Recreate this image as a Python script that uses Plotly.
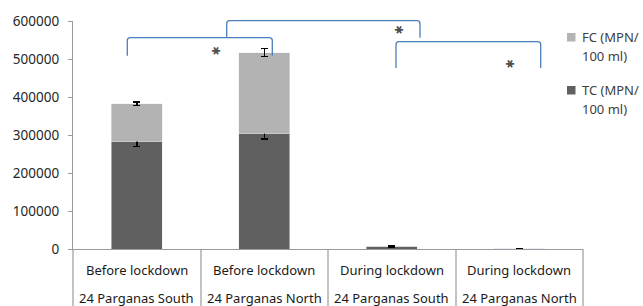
import plotly.graph_objects as go

periods = ["Before lockdown", "Before lockdown", "During lockdown", "During lockdown"]
districts = ["24 Parganas South", "24 Parganas North", "24 Parganas South", "24 Parganas North"]
tc_values = [283000, 305000, 7000, 500]
fc_values = [99000, 212000, 600, 200]
tc_err = [13000, 16000, 1200, 0]
fc_err = [5000, 10000, 0, 0]
y_ticks = [0, 100000, 200000, 300000, 400000, 500000, 600000]
legend_lines = {"FC": ["FC (MPN/", "100 ml)"], "TC": ["TC (MPN/", "100 ml)"]}

W, H = 643, 306
L, R, T, B = 73, 60, 21, 57
PW, PH = W - L - R, H - T - B

def px(x):
    return (x - L) / PW

def py(y):
    return (H - B - y) / PH

TC_COLOR, FC_COLOR = "#606060", "#b3b3b3"

xs = list(range(len(periods)))
fig = go.Figure()
fig.add_trace(go.Bar(
    x=xs, y=tc_values, name="TC (MPN/100 ml)", marker_color=TC_COLOR,
    width=0.4, showlegend=False,
    error_y=dict(type="data", array=tc_err, color="black", thickness=1.5, width=3.5),
))
fig.add_trace(go.Bar(
    x=xs, y=fc_values, name="FC (MPN/100 ml)", marker_color=FC_COLOR,
    width=0.4, showlegend=False,
    error_y=dict(type="data", array=fc_err, color="black", thickness=1.5, width=3.5),
))

shapes = []
blue = "#4a7ebb"
def bracket(x0, x1, ytop, ybot, r=3):
    path = (f"M {px(x0)},{py(ybot)} L {px(x0)},{py(ytop + r)} "
            f"Q {px(x0)},{py(ytop)} {px(x0 + r)},{py(ytop)} "
            f"L {px(x1 - r)},{py(ytop)} Q {px(x1)},{py(ytop)} {px(x1)},{py(ytop + r)} "
            f"L {px(x1)},{py(ybot)}")
    return dict(type="path", path=path, xref="paper", yref="paper",
                line=dict(color=blue, width=1.3))
shapes.append(bracket(127.3, 272.3, 37.7, 55.7))
shapes.append(bracket(226.7, 420, 20.7, 37.7))
shapes.append(bracket(396, 540.7, 41.7, 68))

# category table lines
for b in [73, 201, 328, 456, 583]:
    shapes.append(dict(type="line", xref="paper", yref="paper",
                       x0=px(b), x1=px(b), y0=0, y1=py(310),
                       line=dict(color="#9a9a9a", width=1.2)))

annotations = []
# manual legend
for key, color, ytop in [("FC", FC_COLOR, 33), ("TC", TC_COLOR, 86)]:
    shapes.append(dict(type="rect", xref="paper", yref="paper",
                       x0=px(567), x1=px(575.5), y0=py(ytop), y1=py(ytop + 8.5),
                       fillcolor=color, line=dict(width=0)))
    for k, line in enumerate(legend_lines[key]):
        annotations.append(dict(x=px(580), y=py(ytop + 4.3 + 19 * k), xref="paper",
                                yref="paper", text=line, showarrow=False,
                                xanchor="left", yanchor="middle",
                                font=dict(size=13, color="#404040", family="Noto Sans")))

for (ax, ay) in [(207, 44), (398, 22.5), (518, 57)]:
    annotations.append(dict(x=px(ax), y=py(ay), xref="paper", yref="paper",
                            text="✱", showarrow=False, textangle=90,
                            font=dict(size=11, color="#505050", family="DejaVu Sans")))
for i in xs:
    annotations.append(dict(x=i, y=py(270), xref="x", yref="paper", text=periods[i],
                            showarrow=False, yanchor="middle",
                            font=dict(size=13, color="#1a1a1a", family="Noto Sans")))
    annotations.append(dict(x=i, y=py(297.5), xref="x", yref="paper", text=districts[i],
                            showarrow=False, yanchor="middle",
                            font=dict(size=13, color="#1a1a1a", family="Noto Sans")))

fig.update_layout(
    width=W, height=H, barmode="stack",
    margin=dict(l=L, r=R, t=T, b=B, autoexpand=False),
    plot_bgcolor="white", paper_bgcolor="white",
    font=dict(family="Noto Sans", size=13, color="#404040"),
    showlegend=False,
    shapes=shapes, annotations=annotations,
    xaxis=dict(range=[-0.5, 3.5], showticklabels=False, showgrid=False, zeroline=False,
               showline=True, linecolor="#9a9a9a", linewidth=1.2, ticks=""),
    yaxis=dict(range=[0, 600000], tickvals=y_ticks, showgrid=False, zeroline=False,
               showline=True, linecolor="#9a9a9a", linewidth=1.2, ticks="outside",
               ticklen=4, tickcolor="#9a9a9a", ticklabelstandoff=6, automargin=False,
               tickfont=dict(size=13.5, color="#262626"), tickformat="d"),
)
fig.write_html("out.html", config={"displayModeBar": False},
               post_script="document.body.style.margin='0';document.body.style.overflow='hidden';")
